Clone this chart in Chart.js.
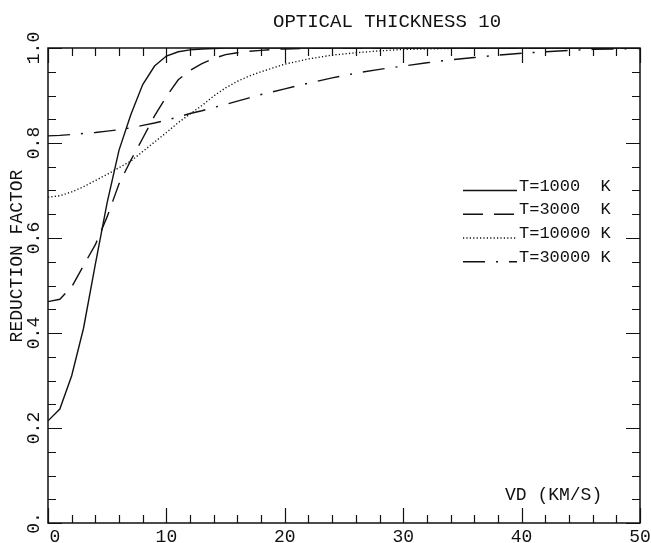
<!DOCTYPE html>
<html>
<head>
<meta charset="utf-8">
<script src="https://cdn.jsdelivr.net/npm/chart.js@4/dist/chart.umd.min.js"></script>
<style>
  html, body { margin: 0; padding: 0; background: #fff; }
  canvas { display: block; }
</style>
</head>
<body>
<canvas id="c" width="651" height="543"></canvas>
<script>
// Doppler velocity VD (km/s) at which the reduction factor was computed
const velocities = [0, 1, 2, 3, 4, 5, 6, 7, 8, 9, 10, 11, 12, 13, 14, 15, 16, 17, 18, 19, 20,
                    22, 24, 26, 28, 30, 32, 34, 36, 38, 40, 42, 44, 46, 48, 50];

// Reduction factor for each temperature
const rT1000  = [0.215, 0.240, 0.310, 0.410, 0.545, 0.675, 0.785, 0.860, 0.923, 0.962, 0.983,
                 0.992, 0.996, 0.998, 0.999, 1.000, 1.000, 1.000, 1.000, 1.000, 1.000,
                 1.000, 1.000, 1.000, 1.000, 1.000, 1.000, 1.000, 1.000, 1.000, 1.000,
                 1.000, 1.000, 1.000, 1.000, 1.000];
const rT3000  = [0.466, 0.471, 0.497, 0.542, 0.586, 0.645, 0.714, 0.764, 0.810, 0.857, 0.898,
                 0.933, 0.953, 0.967, 0.978, 0.986, 0.990, 0.993, 0.995, 0.997, 0.998,
                 0.999, 1.000, 1.000, 1.000, 1.000, 1.000, 1.000, 1.000, 1.000, 1.000,
                 1.000, 1.000, 1.000, 1.000, 1.000];
const rT10000 = [0.686, 0.689, 0.697, 0.708, 0.721, 0.734, 0.748, 0.762, 0.782, 0.802, 0.822,
                 0.843, 0.861, 0.879, 0.899, 0.916, 0.930, 0.941, 0.950, 0.958, 0.966,
                 0.977, 0.985, 0.990, 0.994, 0.997, 0.998, 0.999, 1.000, 1.000, 1.000,
                 1.000, 1.000, 1.000, 1.000, 1.000];
const rT30000 = [0.815, 0.816, 0.818, 0.820, 0.822, 0.825, 0.828, 0.832, 0.837, 0.842, 0.848,
                 0.855, 0.862, 0.868, 0.875, 0.881, 0.888, 0.895, 0.902, 0.908, 0.914,
                 0.926, 0.937, 0.947, 0.955, 0.962, 0.969, 0.975, 0.980, 0.985, 0.989,
                 0.992, 0.995, 0.997, 0.998, 0.999];

const seriesLabels = ['T=1000  K', 'T=3000  K', 'T=10000 K', 'T=30000 K'];
const seriesDashes = [[], [20, 11], [1.2, 2.2], [22, 11, 2, 11]];

const xTickValues = [0, 10, 20, 30, 40, 50];
const xTickLabels = ['0', '10', '20', '30', '40', '50'];
const yTickValues = [0, 0.2, 0.4, 0.6, 0.8, 1.0];
const yTickLabels = ['0.', '0.2', '0.4', '0.6', '0.8', '1.0'];

const titleText = 'OPTICAL THICKNESS 10';
const xAxisTitle = 'VD (KM/S)';
const yAxisTitle = 'REDUCTION FACTOR';

const FONT = '"Liberation Mono", "DejaVu Sans Mono", monospace';
const INK = '#111';

const allSeries = [rT1000, rT3000, rT10000, rT30000];
const datasets = allSeries.map((vals, i) => ({
  label: seriesLabels[i],
  data: velocities.map((v, k) => ({ x: v, y: vals[k] })),
  borderColor: INK,
  borderWidth: 1.4,
  borderDash: seriesDashes[i],
  pointRadius: 0,
  fill: false,
  tension: 0
}));

// Frame, inward ticks, rotated labels, title and line-key drawn on top of the plot
const framePlugin = {
  id: 'plotterFrame',
  afterDraw(chart) {
    const ctx = chart.ctx;
    const { left, right, top, bottom } = chart.chartArea;
    const xs = chart.scales.x, ys = chart.scales.y;
    ctx.save();
    ctx.strokeStyle = INK;
    ctx.fillStyle = INK;
    ctx.setLineDash([]);

    // box
    ctx.lineWidth = 1.5;
    ctx.strokeRect(left, top, right - left, bottom - top);

    // x ticks every 2, long at every 10 (bottom and top, pointing inward)
    ctx.lineWidth = 1.2;
    ctx.beginPath();
    for (let v = 0; v <= 50; v += 2) {
      const px = Math.round(xs.getPixelForValue(v)) + 0.5;
      const len = v % 10 === 0 ? 15 : 8;
      ctx.moveTo(px, bottom); ctx.lineTo(px, bottom - len);
      ctx.moveTo(px, top); ctx.lineTo(px, top + len);
    }
    // y ticks every 0.05, long at every 0.2 (left and right, pointing inward)
    for (let k = 0; k <= 20; k++) {
      const py = Math.round(ys.getPixelForValue(k * 0.05)) + 0.5;
      const len = k % 4 === 0 ? 14 : 8;
      ctx.moveTo(left, py); ctx.lineTo(left + len, py);
      ctx.moveTo(right, py); ctx.lineTo(right - len, py);
    }
    ctx.stroke();

    // x tick labels
    ctx.font = '18px ' + FONT;
    ctx.textBaseline = 'alphabetic';
    xTickValues.forEach((v, i) => {
      const px = xs.getPixelForValue(v);
      ctx.textAlign = 'center';
      const x = i === 0 ? px + 7 : px;
      ctx.fillText(xTickLabels[i], x, 542);
    });

    // y tick labels, rotated to read upward
    yTickValues.forEach((v, i) => {
      const py = ys.getPixelForValue(v);
      ctx.save();
      ctx.translate(34, py);
      ctx.rotate(-Math.PI / 2);
      ctx.textAlign = 'center';
      ctx.textBaseline = 'middle';
      ctx.fillText(yTickLabels[i], 0, 0);
      ctx.restore();
    });

    // y axis title
    ctx.save();
    ctx.translate(17, 256);
    ctx.rotate(-Math.PI / 2);
    ctx.textAlign = 'center';
    ctx.textBaseline = 'middle';
    ctx.fillText(yAxisTitle, 0, 0);
    ctx.restore();

    // x axis title inside the plot
    ctx.textAlign = 'left';
    ctx.textBaseline = 'alphabetic';
    ctx.fillText(xAxisTitle, 505, 500);

    // title
    ctx.font = '19px ' + FONT;
    ctx.fillText(titleText, 273, 27);

    // line key, one row per right-axis tick from 0.70 down
    ctx.font = '17px ' + FONT;
    chart.data.datasets.forEach((ds, i) => {
      const py = ys.getPixelForValue(0.70 - 0.05 * i);
      ctx.lineWidth = ds.borderWidth;
      ctx.setLineDash(ds.borderDash);
      ctx.beginPath();
      ctx.moveTo(463, py);
      ctx.lineTo(517, py);
      ctx.stroke();
      ctx.setLineDash([]);
      ctx.fillText(ds.label, 519, py);
    });

    ctx.restore();
  }
};

new Chart(document.getElementById('c'), {
  type: 'line',
  data: { datasets },
  options: {
    responsive: false,
    animation: false,
    layout: { padding: { left: 48, top: 48, right: 11, bottom: 20 } },
    plugins: { legend: { display: false }, tooltip: { enabled: false } },
    scales: {
      x: { type: 'linear', min: 0, max: 50, display: false },
      y: { type: 'linear', min: 0, max: 1, display: false }
    }
  },
  plugins: [framePlugin]
});
</script>
</body>
</html>
